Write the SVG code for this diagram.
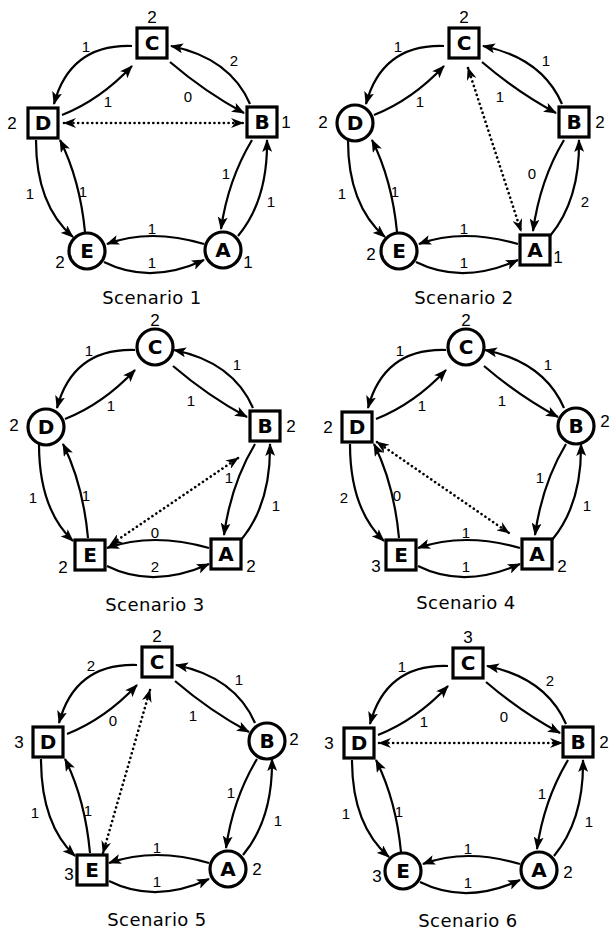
<svg xmlns="http://www.w3.org/2000/svg" width="614" height="931" viewBox="0 0 614 931">
  <style>
    text { fill: #000; }
    .edge { fill: none; stroke: #000; stroke-width: 2.2; marker-end: url(#ah); }
    .dot { fill: none; stroke: #000; stroke-width: 2.6; stroke-linecap: round; stroke-dasharray: 0.1 4.6; marker-start: url(#ahd); marker-end: url(#ahd); }
    .sq { fill: #fff; stroke: #000; stroke-width: 3.2; }
    .ci { fill: #fff; stroke: #000; stroke-width: 3.2; }
    .nl { font-family: "DejaVu Sans", "Liberation Sans", sans-serif; font-weight: bold; font-size: 20px; text-anchor: middle; dominant-baseline: central; }
    .el { font-family: "Liberation Sans", Arial, sans-serif; font-size: 15px; text-anchor: middle; dominant-baseline: central; }
    .num { font-family: "Liberation Sans", Arial, sans-serif; font-size: 17px; text-anchor: middle; dominant-baseline: central; }
    .title { font-family: "DejaVu Sans", "Liberation Sans", sans-serif; font-size: 18px; letter-spacing: 0.4px; text-anchor: middle; dominant-baseline: central; }
  </style>
  <defs>
    <marker id="ah" viewBox="0 0 13 10" refX="12" refY="5" markerWidth="13" markerHeight="10" orient="auto" markerUnits="userSpaceOnUse">
      <path d="M0,0 L13,5 L0,10 L3,5 z" fill="#000"/>
    </marker>
    <marker id="ahd" viewBox="0 0 13 10" refX="12" refY="5" markerWidth="13" markerHeight="10" orient="auto-start-reverse" markerUnits="userSpaceOnUse">
      <path d="M0,0 L13,5 L0,10 L4,5 z" fill="#000"/>
    </marker>
  </defs>

  <!-- ===== Scenario 1 ===== -->
  <g id="scenario1">
    <g id="s1-connectors">
      <path class="edge" d="M132,46 Q70,44 54,104"/>
      <path class="edge" d="M62,115 Q100,100 132,66"/>
      <path class="edge" d="M170,62 Q205,92 244,113"/>
      <path class="edge" d="M250,104 Q230,58 171,46"/>
      <path class="edge" d="M252,140 Q228,180 221,229"/>
      <path class="edge" d="M238,236 Q268,200 267,140"/>
      <path class="edge" d="M204,244 Q150,228 107,244"/>
      <path class="edge" d="M104,262 Q150,285 204,260"/>
      <path class="edge" d="M36,140 Q36,205 73,237"/>
      <path class="edge" d="M85,232 Q80,180 60,140"/>
      <path class="dot" d="M64,123 L243,123"/>
      <text class="el" x="86" y="46">1</text>
      <text class="el" x="108" y="101">1</text>
      <text class="el" x="188" y="96">0</text>
      <text class="el" x="234" y="60">2</text>
      <text class="el" x="226" y="173">1</text>
      <text class="el" x="271" y="201">1</text>
      <text class="el" x="152" y="228">1</text>
      <text class="el" x="152" y="262">1</text>
      <text class="el" x="30" y="193">1</text>
      <text class="el" x="83" y="191">1</text>
    </g>
    <g id="s1-C"><rect class="sq" x="137" y="28" width="30" height="30"/><text class="nl" x="152" y="43">C</text><text class="num" x="152" y="17">2</text></g>
    <g id="s1-B"><rect class="sq" x="247" y="107" width="30" height="30"/><text class="nl" x="262" y="122">B</text><text class="num" x="286" y="122">1</text></g>
    <g id="s1-A"><circle class="ci" cx="223" cy="250" r="18"/><text class="nl" x="223" y="250">A</text><text class="num" x="248" y="262">1</text></g>
    <g id="s1-E"><circle class="ci" cx="87" cy="251" r="18"/><text class="nl" x="87" y="251">E</text><text class="num" x="60" y="262">2</text></g>
    <g id="s1-D"><rect class="sq" x="28" y="108" width="30" height="30"/><text class="nl" x="43" y="123">D</text><text class="num" x="12" y="123">2</text></g>
    <text class="title" x="152" y="297">Scenario 1</text>
  </g>

  <!-- ===== Scenario 2 ===== -->
  <g id="scenario2" transform="translate(312,0)">
    <g id="s2-connectors">
      <path class="edge" d="M132,46 Q70,44 54,104"/>
      <path class="edge" d="M62,115 Q100,100 132,66"/>
      <path class="edge" d="M170,62 Q205,92 244,113"/>
      <path class="edge" d="M250,104 Q230,58 171,46"/>
      <path class="edge" d="M252,140 Q228,180 221,231"/>
      <path class="edge" d="M238,236 Q268,200 267,140"/>
      <path class="edge" d="M206,244 Q150,228 107,244"/>
      <path class="edge" d="M104,262 Q150,285 206,260"/>
      <path class="edge" d="M36,140 Q36,205 73,237"/>
      <path class="edge" d="M85,232 Q80,180 60,140"/>
      <path class="dot" d="M156,68 L209,231"/>
      <text class="el" x="86" y="46">1</text>
      <text class="el" x="108" y="101">1</text>
      <text class="el" x="188" y="96">1</text>
      <text class="el" x="234" y="60">1</text>
      <text class="el" x="220" y="173">0</text>
      <text class="el" x="273" y="201">2</text>
      <text class="el" x="152" y="228">1</text>
      <text class="el" x="152" y="262">1</text>
      <text class="el" x="30" y="193">1</text>
      <text class="el" x="83" y="191">1</text>
    </g>
    <g id="s2-C"><rect class="sq" x="137" y="28" width="30" height="30"/><text class="nl" x="152" y="43">C</text><text class="num" x="152" y="17">2</text></g>
    <g id="s2-B"><rect class="sq" x="247" y="107" width="30" height="30"/><text class="nl" x="262" y="122">B</text><text class="num" x="288" y="122">2</text></g>
    <g id="s2-A"><rect class="sq" x="208" y="235" width="30" height="30"/><text class="nl" x="223" y="250">A</text><text class="num" x="246" y="257">1</text></g>
    <g id="s2-E"><circle class="ci" cx="87" cy="251" r="18"/><text class="nl" x="87" y="251">E</text><text class="num" x="59" y="254">2</text></g>
    <g id="s2-D"><circle class="ci" cx="43" cy="123" r="18"/><text class="nl" x="43" y="123">D</text><text class="num" x="11" y="122">2</text></g>
    <text class="title" x="152" y="297">Scenario 2</text>
  </g>

  <!-- ===== Scenario 3 ===== -->
  <g id="scenario3" transform="translate(3,304)">
    <g id="s3-connectors">
      <path class="edge" d="M132,46 Q70,44 54,104"/>
      <path class="edge" d="M62,115 Q100,100 132,66"/>
      <path class="edge" d="M170,62 Q205,92 244,113"/>
      <path class="edge" d="M250,104 Q230,58 171,46"/>
      <path class="edge" d="M252,140 Q228,180 221,231"/>
      <path class="edge" d="M238,236 Q268,200 267,140"/>
      <path class="edge" d="M206,244 Q150,228 104,244"/>
      <path class="edge" d="M104,262 Q150,285 206,260"/>
      <path class="edge" d="M36,140 Q36,205 70,237"/>
      <path class="edge" d="M85,234 Q80,180 60,140"/>
      <path class="dot" d="M235,154 L107,241"/>
      <text class="el" x="86" y="46">1</text>
      <text class="el" x="108" y="101">1</text>
      <text class="el" x="188" y="96">1</text>
      <text class="el" x="234" y="60">1</text>
      <text class="el" x="226" y="173">1</text>
      <text class="el" x="273" y="201">1</text>
      <text class="el" x="152" y="228">0</text>
      <text class="el" x="152" y="262">2</text>
      <text class="el" x="30" y="193">1</text>
      <text class="el" x="83" y="191">1</text>
    </g>
    <g id="s3-C"><circle class="ci" cx="152" cy="43" r="18"/><text class="nl" x="152" y="43">C</text><text class="num" x="152" y="16">2</text></g>
    <g id="s3-B"><rect class="sq" x="247" y="107" width="30" height="30"/><text class="nl" x="262" y="122">B</text><text class="num" x="288" y="122">2</text></g>
    <g id="s3-A"><rect class="sq" x="208" y="235" width="30" height="30"/><text class="nl" x="223" y="250">A</text><text class="num" x="248" y="262">2</text></g>
    <g id="s3-E"><rect class="sq" x="72" y="236" width="30" height="30"/><text class="nl" x="87" y="251">E</text><text class="num" x="60" y="263">2</text></g>
    <g id="s3-D"><circle class="ci" cx="43" cy="123" r="18"/><text class="nl" x="43" y="123">D</text><text class="num" x="11" y="121">2</text></g>
    <text class="title" x="152" y="300">Scenario 3</text>
  </g>

  <!-- ===== Scenario 4 ===== -->
  <g id="scenario4" transform="translate(314,304)">
    <g id="s4-connectors">
      <path class="edge" d="M132,46 Q70,44 54,104"/>
      <path class="edge" d="M62,115 Q100,100 132,66"/>
      <path class="edge" d="M170,62 Q205,92 244,113"/>
      <path class="edge" d="M250,104 Q230,58 171,46"/>
      <path class="edge" d="M252,140 Q228,180 221,231"/>
      <path class="edge" d="M238,236 Q268,200 267,140"/>
      <path class="edge" d="M206,244 Q150,228 104,244"/>
      <path class="edge" d="M104,262 Q150,285 206,260"/>
      <path class="edge" d="M36,140 Q36,205 70,237"/>
      <path class="edge" d="M85,234 Q80,180 60,140"/>
      <path class="dot" d="M63,138 L195,229"/>
      <text class="el" x="86" y="46">1</text>
      <text class="el" x="108" y="101">1</text>
      <text class="el" x="188" y="96">1</text>
      <text class="el" x="234" y="60">1</text>
      <text class="el" x="226" y="173">1</text>
      <text class="el" x="273" y="201">1</text>
      <text class="el" x="152" y="228">1</text>
      <text class="el" x="152" y="262">1</text>
      <text class="el" x="30" y="193">2</text>
      <text class="el" x="83" y="191">0</text>
    </g>
    <g id="s4-C"><circle class="ci" cx="152" cy="43" r="18"/><text class="nl" x="152" y="43">C</text><text class="num" x="152" y="16">2</text></g>
    <g id="s4-B"><circle class="ci" cx="262" cy="122" r="18"/><text class="nl" x="262" y="122">B</text><text class="num" x="291" y="117">2</text></g>
    <g id="s4-A"><rect class="sq" x="208" y="235" width="30" height="30"/><text class="nl" x="223" y="250">A</text><text class="num" x="248" y="262">2</text></g>
    <g id="s4-E"><rect class="sq" x="72" y="236" width="30" height="30"/><text class="nl" x="87" y="251">E</text><text class="num" x="62" y="262">3</text></g>
    <g id="s4-D"><rect class="sq" x="28" y="108" width="30" height="30"/><text class="nl" x="43" y="123">D</text><text class="num" x="14" y="123">2</text></g>
    <text class="title" x="152" y="298">Scenario 4</text>
  </g>

  <!-- ===== Scenario 5 ===== -->
  <g id="scenario5" transform="translate(5,619)">
    <g id="s5-connectors">
      <path class="edge" d="M132,46 Q70,44 54,104"/>
      <path class="edge" d="M62,115 Q100,100 132,66"/>
      <path class="edge" d="M170,62 Q205,92 244,113"/>
      <path class="edge" d="M250,104 Q230,58 171,46"/>
      <path class="edge" d="M252,140 Q228,180 221,229"/>
      <path class="edge" d="M238,236 Q268,200 267,140"/>
      <path class="edge" d="M204,244 Q150,228 104,244"/>
      <path class="edge" d="M104,262 Q150,285 204,260"/>
      <path class="edge" d="M36,140 Q36,205 70,237"/>
      <path class="edge" d="M85,234 Q80,180 60,140"/>
      <path class="dot" d="M145,71 L98,234"/>
      <text class="el" x="86" y="46">2</text>
      <text class="el" x="108" y="101">0</text>
      <text class="el" x="188" y="96">1</text>
      <text class="el" x="234" y="60">1</text>
      <text class="el" x="226" y="173">1</text>
      <text class="el" x="273" y="201">1</text>
      <text class="el" x="152" y="228">1</text>
      <text class="el" x="152" y="262">1</text>
      <text class="el" x="30" y="193">1</text>
      <text class="el" x="83" y="191">1</text>
    </g>
    <g id="s5-C"><rect class="sq" x="137" y="28" width="30" height="30"/><text class="nl" x="152" y="43">C</text><text class="num" x="152" y="17">2</text></g>
    <g id="s5-B"><circle class="ci" cx="262" cy="122" r="18"/><text class="nl" x="262" y="122">B</text><text class="num" x="289" y="120">2</text></g>
    <g id="s5-A"><circle class="ci" cx="223" cy="250" r="18"/><text class="nl" x="223" y="250">A</text><text class="num" x="252" y="250">2</text></g>
    <g id="s5-E"><rect class="sq" x="72" y="236" width="30" height="30"/><text class="nl" x="87" y="251">E</text><text class="num" x="64" y="255">3</text></g>
    <g id="s5-D"><rect class="sq" x="28" y="108" width="30" height="30"/><text class="nl" x="43" y="123">D</text><text class="num" x="14" y="123">3</text></g>
    <text class="title" x="152" y="300">Scenario 5</text>
  </g>

  <!-- ===== Scenario 6 ===== -->
  <g id="scenario6" transform="translate(316,620)">
    <g id="s6-connectors">
      <path class="edge" d="M132,46 Q70,44 54,104"/>
      <path class="edge" d="M62,115 Q100,100 132,66"/>
      <path class="edge" d="M170,62 Q205,92 244,113"/>
      <path class="edge" d="M250,104 Q230,58 171,46"/>
      <path class="edge" d="M252,140 Q228,180 221,229"/>
      <path class="edge" d="M238,236 Q268,200 267,140"/>
      <path class="edge" d="M204,244 Q150,228 107,244"/>
      <path class="edge" d="M104,262 Q150,285 204,260"/>
      <path class="edge" d="M36,140 Q36,205 73,237"/>
      <path class="edge" d="M85,232 Q80,180 60,140"/>
      <path class="dot" d="M63,123 L246,123"/>
      <text class="el" x="86" y="46">1</text>
      <text class="el" x="108" y="101">1</text>
      <text class="el" x="188" y="96">0</text>
      <text class="el" x="234" y="60">2</text>
      <text class="el" x="226" y="173">1</text>
      <text class="el" x="273" y="201">1</text>
      <text class="el" x="152" y="228">1</text>
      <text class="el" x="152" y="262">1</text>
      <text class="el" x="30" y="193">1</text>
      <text class="el" x="83" y="191">1</text>
    </g>
    <g id="s6-C"><rect class="sq" x="137" y="28" width="30" height="30"/><text class="nl" x="152" y="43">C</text><text class="num" x="152" y="17">3</text></g>
    <g id="s6-B"><rect class="sq" x="247" y="107" width="30" height="30"/><text class="nl" x="262" y="122">B</text><text class="num" x="288" y="122">2</text></g>
    <g id="s6-A"><circle class="ci" cx="223" cy="250" r="18"/><text class="nl" x="223" y="250">A</text><text class="num" x="252" y="252">2</text></g>
    <g id="s6-E"><circle class="ci" cx="87" cy="251" r="18"/><text class="nl" x="87" y="251">E</text><text class="num" x="61" y="256">3</text></g>
    <g id="s6-D"><rect class="sq" x="28" y="108" width="30" height="30"/><text class="nl" x="43" y="123">D</text><text class="num" x="13" y="123">3</text></g>
    <text class="title" x="152" y="300">Scenario 6</text>
  </g>
</svg>
